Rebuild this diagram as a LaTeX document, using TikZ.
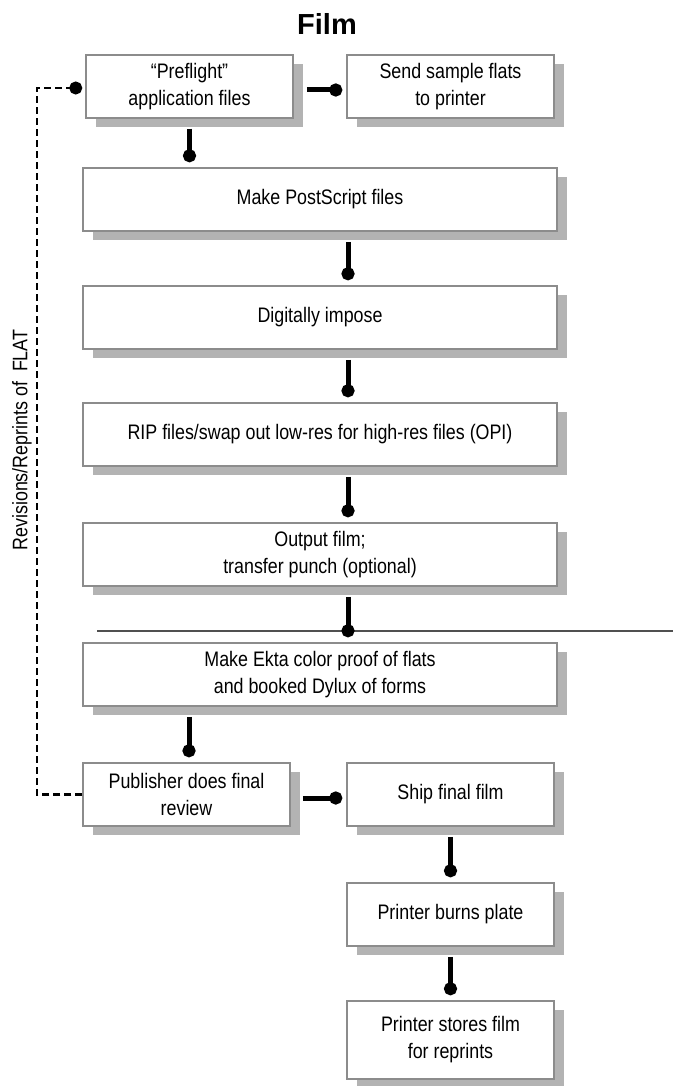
\documentclass[tikz,border=0pt]{standalone}
\usepackage{fontspec}
\setmainfont{Liberation Sans}[FakeStretch=0.85]
\newfontfamily\headfont{Liberation Sans}
\usetikzlibrary{arrows.meta,shadows,calc}
\definecolor{boxline}{HTML}{8C8C8C}
\definecolor{shade}{HTML}{B3B3B3}
\definecolor{cutline}{HTML}{505050}

\begin{document}
\begin{tikzpicture}[x=0.5pt, y=-0.5pt, font=\fontsize{10.5}{13.5}\selectfont]
\tikzstyle{stage}=[draw=boxline, line width=0.75pt, fill=white, align=center, minimum width=103.5pt, minimum height=31.5pt, inner sep=2pt, general shadow={fill=shade, shadow xshift=5pt, shadow yshift=-4.5pt}]
\tikzstyle{wide}=[stage, minimum width=237pt]
\tikzstyle{link}=[line width=2.5pt, -{Circle[length=6.5pt,width=6.5pt]}]
\tikzstyle{back}=[line width=1.2pt, dash pattern=on 3.5pt off 2pt, -{Circle[length=6.5pt,width=6.5pt]}]
\tikzstyle{cut}=[draw=cutline, line width=0.75pt]
\useasboundingbox (0,0) rectangle (673,1086);
\node[font=\headfont\bfseries\fontsize{14.5}{16}\selectfont] (title) at (327,24) {Film};
\node[stage] (pre) at (189.5,86.5) {“Preflight”\\application files};
\node[stage] (send) at (450.5,86.5) {Send sample flats\\to printer};
\node[wide] (make) at (320,199.5) {Make PostScript files};
\node[wide] (impose) at (320,317.5) {Digitally impose};
\node[wide] (rip) at (320,434.5) {RIP files/swap out low-res for high-res files (OPI)};
\node[wide] (output) at (320,554.5) {Output film;\\transfer punch (optional)};
\node[wide] (ekta) at (320,674.5) {Make Ekta color proof of flats\\and booked Dylux of forms};
\node[stage] (review) at (186.5,794.5) {Publisher does final\\review};
\node[stage] (ship) at (450.5,794.5) {Ship final film};
\node[stage] (burn) at (450.5,914.5) {Printer burns plate};
\node[stage, minimum height=39pt] (store) at (450.5,1040) {Printer stores film\\for reprints};
\node[rotate=90] (revs) at (22,440) {Revisions/Reprints of\ \ FLAT};
\coordinate (rail) at (37,0);
\coordinate (cutL) at (97,631);
\coordinate (cutR) at (673,631);
\draw[cut] (cutL) -- (cutR);
\draw[link] ($(pre.east)+(13,3.5)$) -- ($(send.west)+(-4,3.5)$);
\draw[link] ($(pre.south)+(0,10)$) -- ($(pre.south |- make.north)+(0,-5)$);
\draw[link] ($(make.south)+(28,10)$) -- ($(impose.north)+(28,-5)$);
\draw[link] ($(impose.south)+(28,10)$) -- ($(rip.north)+(28,-5)$);
\draw[link] ($(rip.south)+(28,10)$) -- ($(output.north)+(28,-5)$);
\draw[link] ($(output.south)+(28,10)$) -- ($(ekta.north)+(28,-5)$);
\draw[link] ($(ekta.south -| review.north)+(2.5,10)$) -- ($(review.north)+(2.5,-5)$);
\draw[link] ($(review.east)+(12,3.5)$) -- ($(ship.west)+(-4,3.5)$);
\draw[link] ($(ship.south)+(0,10)$) -- ($(burn.north)+(0,-5)$);
\draw[link] ($(burn.south)+(0,10)$) -- ($(store.north)+(0,-5)$);
\draw[back] (review.west) -- (review.west -| rail) |- ($(pre.west)+(-3,1.5)$);
\end{tikzpicture}
\end{document}
